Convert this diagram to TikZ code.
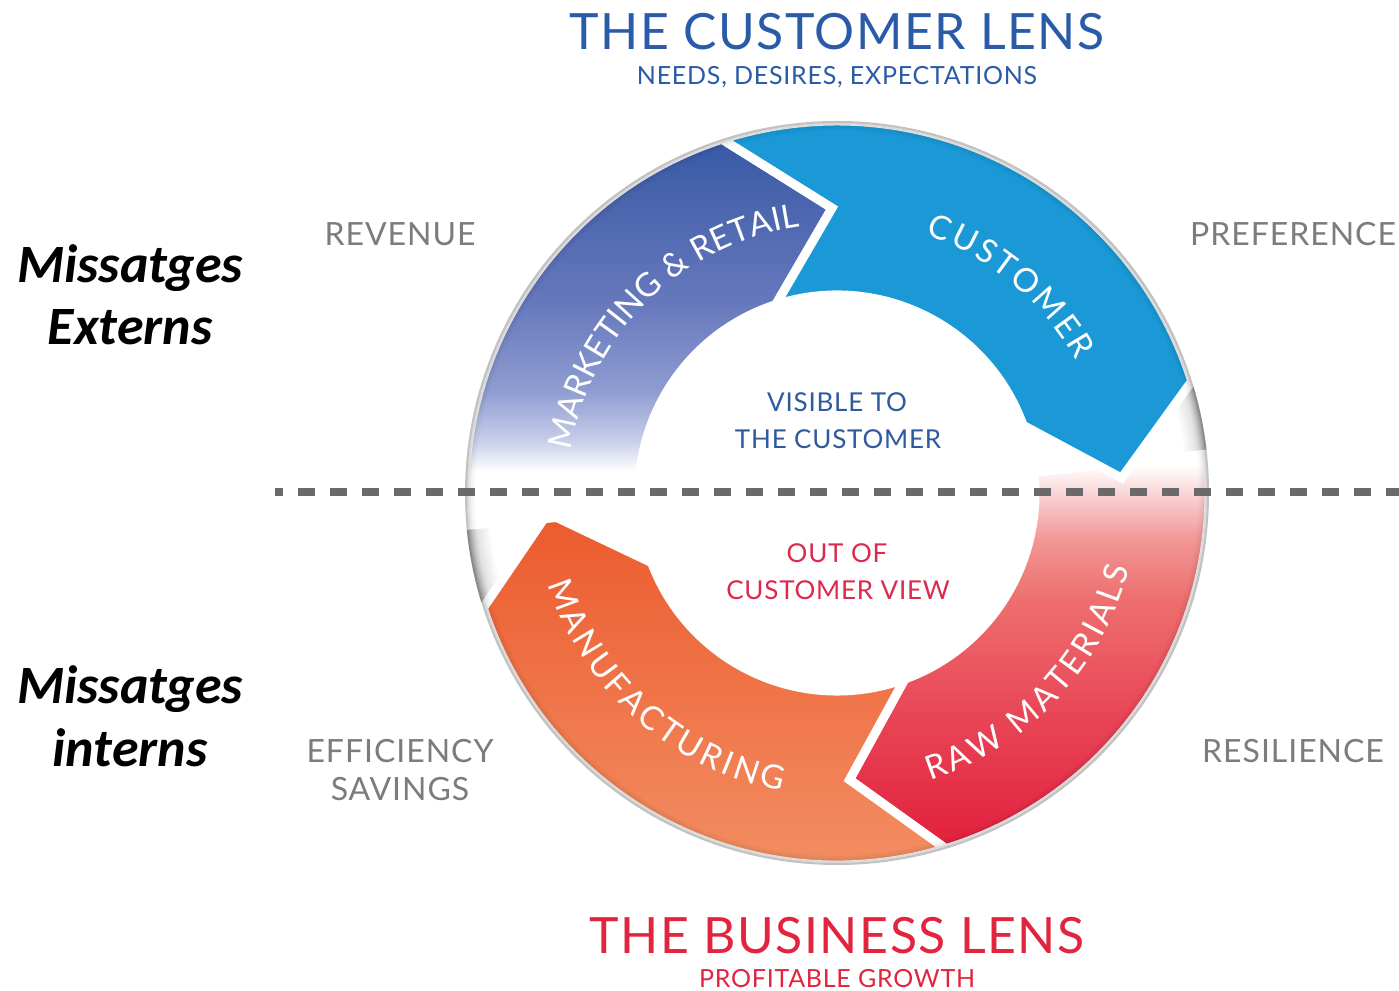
\documentclass[tikz,border=0pt]{standalone}
\usepackage{fontspec}
\setmainfont{Lato}[LetterSpace=3]
\newfontfamily\misfont{Carlito}
\usetikzlibrary{decorations.text}
\definecolor{mkA}{HTML}{3B5BA6}
\definecolor{mkB}{HTML}{6678BC}
\definecolor{mkC}{HTML}{8E9CD1}
\definecolor{mkD}{HTML}{C8CEEA}
\definecolor{cuA}{HTML}{1A99D6}
\definecolor{rwA}{HTML}{E21F3D}
\definecolor{rwB}{HTML}{E84456}
\definecolor{rwC}{HTML}{EE6E6E}
\definecolor{rwD}{HTML}{F29696}
\definecolor{rwE}{HTML}{F8CBCB}
\definecolor{mfA}{HTML}{EC5A2E}
\definecolor{mfB}{HTML}{F39468}
\definecolor{lensblue}{HTML}{2A5BA8}
\definecolor{lensred}{HTML}{E2253F}
\definecolor{visblue}{HTML}{2F5A9E}
\definecolor{outred}{HTML}{DC2A4C}
\definecolor{labgrey}{HTML}{7C7C7C}
\definecolor{dashgrey}{HTML}{6A6A6A}
\pgfdeclareverticalshading{mktshade}{100bp}{color(0bp)=(white); color(32bp)=(white); color(36bp)=(mkD); color(42.5bp)=(mkC); color(54bp)=(mkB); color(73.5bp)=(mkA); color(100bp)=(mkA)}
\pgfdeclareverticalshading{rawshade}{100bp}{color(0bp)=(rwA); color(25bp)=(rwA); color(41.3bp)=(rwB); color(56.5bp)=(rwC); color(64.2bp)=(rwD); color(69.2bp)=(rwE); color(73.6bp)=(white); color(100bp)=(white)}
\pgfdeclareradialshading{discshade}{\pgfpoint{0bp}{0bp}}{color(0bp)=(white); color(23.4bp)=(white); color(24.4bp)=(black!12); color(25bp)=(black!30); color(50bp)=(black!30)}
\newcommand\ringfont{\fontsize{33}{33}\selectfont\color{white}}
\begin{document}
\begin{tikzpicture}[x=1pt,y=1pt,
  segedge/.style={draw=white, line width=9pt},
  lbl/.style={anchor=base, inner sep=0pt},
  lens/.style={lbl, font=\fontsize{50}{50}\selectfont},
  sublens/.style={lbl, font=\fontsize{25}{25}\selectfont},
  side/.style={lbl, text=labgrey, font=\fontsize{32}{32}\selectfont},
  mid/.style={lbl, font=\fontsize{26}{26}\selectfont},
  mis/.style={lbl, font=\misfont\bfseries\itshape\fontsize{54}{54}\selectfont},
  dashline/.style={draw=dashgrey, line width=8pt, dash pattern=on 17pt off 15pt, dash phase=9pt},
  ringtext/.style={decorate, decoration={text along path, text align={fit to path}, text={#1}}}]
\useasboundingbox (0,0) rectangle (1399,990);
\fill[white] (0,0) rectangle (1399,990);

\begin{scope}[shift={(837,497)}]
  % disc
  \shade[shading=discshade] (0,0) circle (372);
  % raw materials
  \shadedraw[shading=rawshade, segedge] (6:372) arc[start angle=6, end angle=-73, radius=372]
     -- (-87.5:287) -- (-70:198) arc[start angle=-70, end angle=6, radius=198] -- cycle;
  % manufacturing
  \shadedraw[top color=mfA, bottom color=mfB, segedge] (-73:372) arc[start angle=-73, end angle=-162, radius=372]
     -- (-176:290) -- (-159.4:198) arc[start angle=-159.4, end angle=-70, radius=198] -- (-87.5:287) -- cycle;
  % marketing
  \shadedraw[shading=mktshade, segedge] (185:372) arc[start angle=185, end angle=108, radius=372]
     -- (91:285) -- (108:198) arc[start angle=108, end angle=185, radius=198] -- cycle;
  % customer
  \filldraw[fill=cuA, segedge] (108:372) arc[start angle=108, end angle=17.5, radius=372]
     -- (3:285) -- (20:198) arc[start angle=20, end angle=108, radius=198] -- (91:285) -- cycle;
  % rim
  \foreach \r/\o in {371/0.24, 369/0.14, 367/0.08, 365/0.045, 363/0.02}
    \draw[black, opacity=\o, line width=2pt] (0,0) circle (\r);
  % ring labels
  \path[ringtext={|\ringfont|MARKETING {\&} RETAIL}] (171:269) arc[start angle=171, end angle=98, radius=269];
  \path[ringtext={|\ringfont|CUSTOMER}] (71:273) arc[start angle=71, end angle=29, radius=273];
  \path[ringtext={|\ringfont|RAW MATERIALS}] (-72:302) arc[start angle=-72, end angle=-14.5, radius=302];
  \path[ringtext={|\ringfont|MANUFACTURING}] (197.5:303) arc[start angle=197.5, end angle=259.5, radius=303];
\end{scope}

% dashed divider
\coordinate (dashL) at (275,498);
\coordinate (dashR) at (1399,498);
\draw[dashline] (dashL) -- (dashR);

% titles
\node[lens, text=lensblue] (clens) at (837,940) {THE CUSTOMER LENS};
\node[sublens, text=lensblue] (csub) at (837,905) {NEEDS, DESIRES, EXPECTATIONS};
\node[lens, text=lensred] (blens) at (837,37) {THE BUSINESS LENS};
\node[sublens, text=lensred] (bsub) at (837,3) {PROFITABLE GROWTH};

% centre texts
\node[mid, text=visblue] (vis1) at (837,578) {VISIBLE TO};
\node[mid, text=visblue] (vis2) at (838,541) {THE CUSTOMER};
\node[mid, text=outred] (out1) at (837,427) {OUT OF};
\node[mid, text=outred] (out2) at (838,390) {CUSTOMER VIEW};

% side labels
\node[side] (rev) at (400,744) {REVENUE};
\node[side] (pref) at (1293,744) {PREFERENCE};
\node[side] (eff1) at (400,227) {EFFICIENCY};
\node[side] (eff2) at (400,189) {SAVINGS};
\node[side] (res) at (1293,227) {RESILIENCE};

% Missatges
\node[mis] (ext1) at (130,707) {Missatges};
\node[mis] (ext2) at (130,645) {Externs};
\node[mis] (int1) at (130,286) {Missatges};
\node[mis] (int2) at (130,223) {interns};
\end{tikzpicture}
\end{document}
